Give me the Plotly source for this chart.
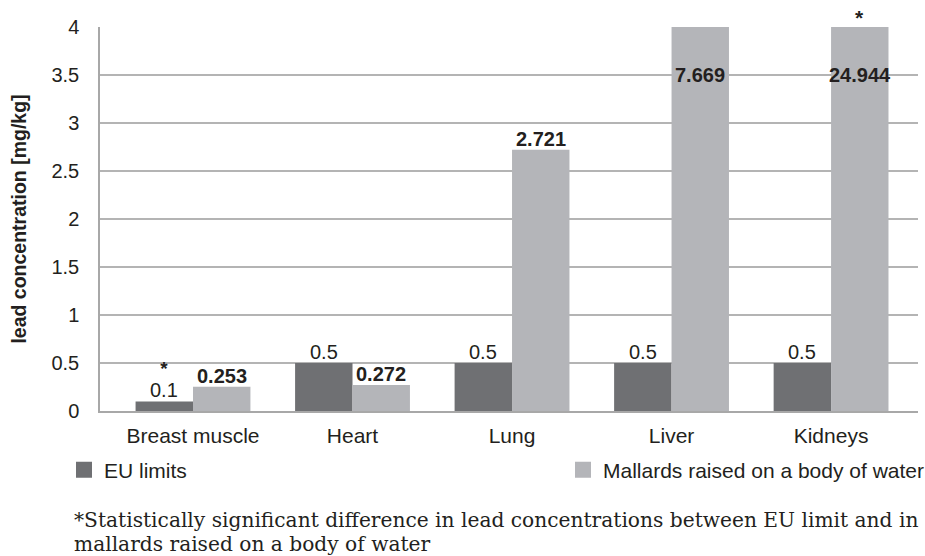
import plotly.graph_objects as go

categories = ["Breast muscle", "Heart", "Lung", "Liver", "Kidneys"]
eu_limits = [0.1, 0.5, 0.5, 0.5, 0.5]
mallards = [0.253, 0.272, 2.721, 7.669, 24.944]
eu_sig = [True, False, False, False, False]
mallard_sig = [False, False, False, False, True]
y_ticks = [0, 0.5, 1, 1.5, 2, 2.5, 3, 3.5, 4]
y_tick_text = ["0", "0.5", "1", "1.5", "2", "2.5", "3", "3.5", "4"]
footnote_lines = [
    "*Statistically significant difference in lead concentrations between EU limit and in",
    "mallards raised on a body of water",
]

Y_MAX = 4
DARK = "#6f7073"
LIGHT = "#b4b5b9"
TXT = "#231f20"
SANS = "Liberation Sans, Arial, sans-serif"
BAR_W = 0.36

# plot area geometry in pixels (for margin-placed text)
PL, PR, PT, PB = 100, 918, 27, 411
def px_x(px):
    return (px - PL) / (PR - PL)
def px_y(py):
    return (PB - py) / (PB - PT)

xs = list(range(len(categories)))
series = [
    ("EU limits", eu_limits, DARK, -BAR_W, "legend"),
    ("Mallards raised on a body of water", mallards, LIGHT, 0, "legend2"),
]

fig = go.Figure()
for name, vals, col, off, leg in series:
    fig.add_trace(go.Bar(x=xs, y=vals, name=name, marker_color=col, marker_line_width=0,
                         width=BAR_W, offset=off, legendgroup=name, showlegend=False))
    # legend entry with a larger square swatch, tied to the bar trace
    fig.add_trace(go.Scatter(x=[None], y=[None], mode="markers", name=name,
                             legendgroup=name, legend=leg,
                             marker=dict(symbol="square", size=20, color=col)))

annotations = []
for i, (e, m) in enumerate(zip(eu_limits, mallards)):
    if eu_sig[i]:
        txt = ("<span style='font-size:19px'><b>*</b></span><br>"
               f"<span style='font-size:20px'>{e:g}</span>")
        annotations.append(dict(x=i - BAR_W / 2, y=e, xref="x", yref="y", text=txt,
                                showarrow=False, yanchor="bottom", yshift=-2,
                                font=dict(family=SANS, size=17.2, color=TXT)))
    else:
        annotations.append(dict(x=i - BAR_W / 2, y=e, xref="x", yref="y", text=f"{e:g}",
                                showarrow=False, yanchor="bottom", yshift=-2,
                                font=dict(family=SANS, size=20, color=TXT)))
    if m <= Y_MAX:
        annotations.append(dict(x=i + BAR_W / 2, y=m, xref="x", yref="y",
                                text=f"<b>{m:.3f}</b>", showarrow=False,
                                yanchor="bottom", yshift=-2,
                                font=dict(family=SANS, size=20, color=TXT)))
    else:
        annotations.append(dict(x=i + BAR_W / 2, y=Y_MAX, xref="x", yref="y",
                                text=f"<b>{m:.3f}</b>", showarrow=False,
                                yanchor="middle", yshift=-48,
                                font=dict(family=SANS, size=20, color=TXT)))
    if mallard_sig[i]:
        annotations.append(dict(x=i + BAR_W / 2, y=min(m, Y_MAX), xref="x", yref="y",
                                text="<b>*</b>", showarrow=False, yanchor="bottom", yshift=-4,
                                font=dict(family=SANS, size=21, color=TXT)))

foot_text = "<br>".join(f"<span style='font-size:20.2px'>{t}</span>" for t in footnote_lines)
annotations.append(dict(xref="paper", yref="paper", x=px_x(72), y=px_y(532),
                        xanchor="left", yanchor="middle", showarrow=False, align="left",
                        text=foot_text,
                        font=dict(family="DejaVu Serif, serif", size=18.6, color=TXT)))

LEG_FONT = dict(family=SANS, size=21, color=TXT)
fig.update_layout(
    width=925, height=556,
    margin=dict(l=PL, r=925 - PR, t=PT, b=556 - PB, autoexpand=False),
    paper_bgcolor="white", plot_bgcolor="white",
    barmode="overlay",
    showlegend=True,
    legend=dict(orientation="h", x=px_x(64), y=px_y(470), yanchor="middle",
                xanchor="left", font=LEG_FONT, bgcolor="rgba(0,0,0,0)"),
    legend2=dict(orientation="h", x=px_x(563), y=px_y(470), yanchor="middle",
                 xanchor="left", font=LEG_FONT, bgcolor="rgba(0,0,0,0)"),
    xaxis=dict(range=[-0.583, 4.545], tickvals=xs, ticktext=categories,
               showgrid=False, showline=True, linecolor="#a8a8a8", linewidth=1.5,
               ticks="", tickfont=dict(family=SANS, size=21, color=TXT),
               ticklabelstandoff=5, automargin=False, fixedrange=True),
    yaxis=dict(range=[0, Y_MAX], tickvals=y_ticks, ticktext=y_tick_text,
               showgrid=True, gridcolor="#b4b4b4", gridwidth=1.5,
               showline=True, linecolor="#a8a8a8", linewidth=1.5,
               ticks="", tickfont=dict(family=SANS, size=20, color=TXT),
               ticklabelstandoff=15, zeroline=False, automargin=False,
               fixedrange=True,
               title=dict(text="<b>lead concentration [mg/kg]</b>", standoff=20,
                          font=dict(family=SANS, size=19.5, color=TXT))),
    annotations=annotations,
)

fig.write_html("out.html", config={"displayModeBar": False},
               post_script="document.body.style.margin='0';document.body.style.overflow='hidden';")
